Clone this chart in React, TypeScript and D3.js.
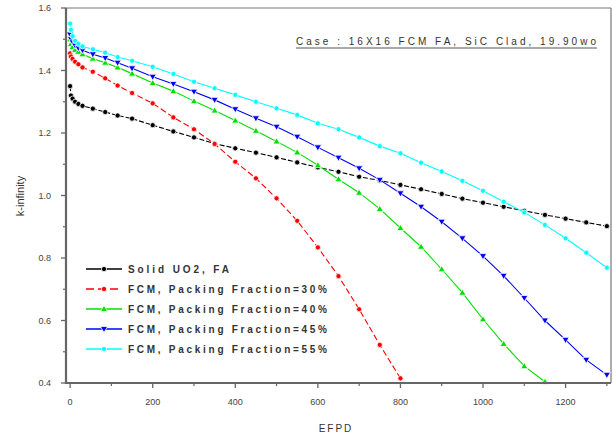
import React from "react";
import * as d3 from "d3";

const efpd = [0, 2, 6, 12, 20, 30, 55, 85, 115, 150, 200, 250, 300, 350, 400, 450, 500, 550, 600, 650, 700, 750, 800, 850, 900, 950, 1000, 1050, 1100, 1150, 1200, 1250, 1300];

const solidUO2 = [1.35, 1.32, 1.31, 1.30, 1.293, 1.287, 1.278, 1.267, 1.256, 1.246, 1.225, 1.205, 1.186, 1.166, 1.151, 1.137, 1.122, 1.106, 1.09, 1.076, 1.06, 1.048, 1.034, 1.02, 1.005, 0.99, 0.977, 0.964, 0.951, 0.938, 0.926, 0.914, 0.902];
const pf30 = [1.455, 1.445, 1.437, 1.428, 1.42, 1.41, 1.396, 1.375, 1.352, 1.328, 1.295, 1.25, 1.212, 1.165, 1.108, 1.055, 0.991, 0.919, 0.834, 0.742, 0.636, 0.522, 0.415];
const pf40 = [1.50, 1.485, 1.475, 1.466, 1.46, 1.452, 1.438, 1.425, 1.41, 1.39, 1.36, 1.334, 1.302, 1.272, 1.24, 1.207, 1.173, 1.138, 1.097, 1.052, 1.009, 0.957, 0.896, 0.836, 0.764, 0.689, 0.604, 0.525, 0.454, 0.404];
const pf45 = [1.515, 1.50, 1.49, 1.48, 1.472, 1.465, 1.452, 1.44, 1.425, 1.407, 1.38, 1.357, 1.332, 1.306, 1.276, 1.247, 1.22, 1.188, 1.154, 1.121, 1.087, 1.05, 1.007, 0.964, 0.916, 0.863, 0.806, 0.743, 0.672, 0.60, 0.538, 0.474, 0.426];
const pf55 = [1.55, 1.53, 1.51, 1.495, 1.485, 1.477, 1.468, 1.457, 1.443, 1.431, 1.412, 1.389, 1.364, 1.343, 1.322, 1.30, 1.279, 1.258, 1.231, 1.212, 1.186, 1.158, 1.135, 1.105, 1.077, 1.047, 1.015, 0.98, 0.946, 0.906, 0.863, 0.817, 0.769];

const seriesNames = ["Solid UO2, FA", "FCM, Packing Fraction=30%", "FCM, Packing Fraction=40%", "FCM, Packing Fraction=45%", "FCM, Packing Fraction=55%"];
const seriesValues = [solidUO2, pf30, pf40, pf45, pf55];
const seriesColors = ["#000000", "#ff0000", "#00e000", "#0000ff", "#00ffff"];
const seriesDash = ["5,2", "6,3", "none", "none", "none"];
const seriesMarker = ["circle", "circle", "triUp", "triDown", "circle"];

const xTicks = [0, 200, 400, 600, 800, 1000, 1200];
const xMinor = [100, 300, 500, 700, 900, 1100, 1300];
const yTicks = [0.4, 0.6, 0.8, 1.0, 1.2, 1.4, 1.6];
const yMinor = [0.5, 0.7, 0.9, 1.1, 1.3, 1.5];

const titleText = "Case : 16X16 FCM FA, SiC Clad, 19.90wo";
const xLabel = "EFPD";
const yLabel = "k-infinity";

const W = 613, H = 434;
const L = 66, R = 611, T = 8, B = 383;

function Marker({ type, x, y, color }: { type: string; x: number; y: number; color: string }) {
  if (type === "circle") {
    return <circle cx={x} cy={y} r={2.6} fill={color} stroke="#fff" strokeWidth={0.8} />;
  }
  const s = 3.6;
  const pts = type === "triUp"
    ? [[x, y - s], [x - s, y + s * 0.7], [x + s, y + s * 0.7]]
    : [[x, y + s], [x - s, y - s * 0.7], [x + s, y - s * 0.7]];
  return <polygon points={pts.map((p) => p.join(",")).join(" ")} fill={color} stroke="#fff" strokeWidth={0.8} />;
}

export default function App() {
  const x = d3.scaleLinear().domain([-10, 1310]).range([L, R]);
  const y = d3.scaleLinear().domain([0.4, 1.6]).range([B, T]);
  const line = d3.line<[number, number]>().x((d) => x(d[0])).y((d) => y(d[1]));
  const font = "'Liberation Sans', Arial, sans-serif";
  const axisColor = "#666";
  const textColor = "#444";

  return (
    <svg width={W} height={H} style={{ position: "absolute", left: 0, top: 0, background: "#fff" }}>
      <rect x={0} y={0} width={W} height={H} fill="#fff" />
      {/* frame */}
      <line x1={L} y1={T} x2={R} y2={T} stroke="#777" strokeWidth={1.2} />
      <line x1={R} y1={T} x2={R} y2={B} stroke="#777" strokeWidth={1.2} />
      {/* series */}
      {seriesValues.map((vals, i) => {
        const pts: [number, number][] = vals.map((v, j) => [efpd[j], v]);
        return (
          <g key={i}>
            <path d={line(pts) || ""} fill="none" stroke={seriesColors[i]} strokeWidth={1.1} strokeDasharray={seriesDash[i]} />
            {pts.map((p, j) => (
              <Marker key={j} type={seriesMarker[i]} x={x(p[0])} y={y(p[1])} color={seriesColors[i]} />
            ))}
          </g>
        );
      })}
      {/* axes */}
      <line x1={L} y1={T} x2={L} y2={B + 1} stroke={axisColor} strokeWidth={2.2} />
      <line x1={L - 1} y1={B} x2={R} y2={B} stroke={axisColor} strokeWidth={2.2} />
      {yTicks.map((t) => (
        <g key={"y" + t}>
          <line x1={L - 5} x2={L} y1={y(t)} y2={y(t)} stroke={axisColor} strokeWidth={1.3} />
          <text x={L - 15} y={y(t) + 3} textAnchor="end" fontSize={9} fontFamily={font} fill={textColor}>{t.toFixed(1)}</text>
        </g>
      ))}
      {yMinor.map((t) => (
        <line key={"ym" + t} x1={L - 3} x2={L} y1={y(t)} y2={y(t)} stroke={axisColor} strokeWidth={1.2} />
      ))}
      {xTicks.map((t) => (
        <g key={"x" + t}>
          <line x1={x(t)} x2={x(t)} y1={B} y2={B + 5} stroke={axisColor} strokeWidth={1.3} />
          <text x={x(t)} y={B + 22} textAnchor="middle" fontSize={9} fontFamily={font} fill={textColor}>{t}</text>
        </g>
      ))}
      {xMinor.map((t) => (
        <line key={"xm" + t} x1={x(t)} x2={x(t)} y1={B} y2={B + 3} stroke={axisColor} strokeWidth={1.2} />
      ))}
      {/* axis labels */}
      <text x={336} y={432} textAnchor="middle" fontSize={10} fontFamily={font} fill="#333" letterSpacing={2}>{xLabel}</text>
      <text transform={`translate(24,196) rotate(-90)`} textAnchor="middle" fontSize={11} fontFamily={font} fill="#333">{yLabel}</text>
      {/* title */}
      <text x={296} y={45} fontSize={10} fontFamily={font} fill="#333" textLength={300} lengthAdjust="spacing">{titleText}</text>
      <line x1={296} x2={597} y1={48} y2={48} stroke="#555" strokeWidth={1} />
      {/* legend */}
      {seriesNames.map((name, i) => {
        const ly = 269 + i * 20;
        return (
          <g key={"lg" + i}>
            <line x1={86} x2={122} y1={ly} y2={ly} stroke={seriesColors[i]} strokeWidth={1.3} strokeDasharray={i === 1 ? "8,4" : "none"} />
            <Marker type={seriesMarker[i]} x={104} y={ly} color={seriesColors[i]} />
            <text x={128} y={ly + 4} fontSize={10} fontWeight="bold" fontFamily={font} fill="#333" textLength={i === 0 ? 101 : 199} lengthAdjust="spacing">{name}</text>
          </g>
        );
      })}
    </svg>
  );
}
